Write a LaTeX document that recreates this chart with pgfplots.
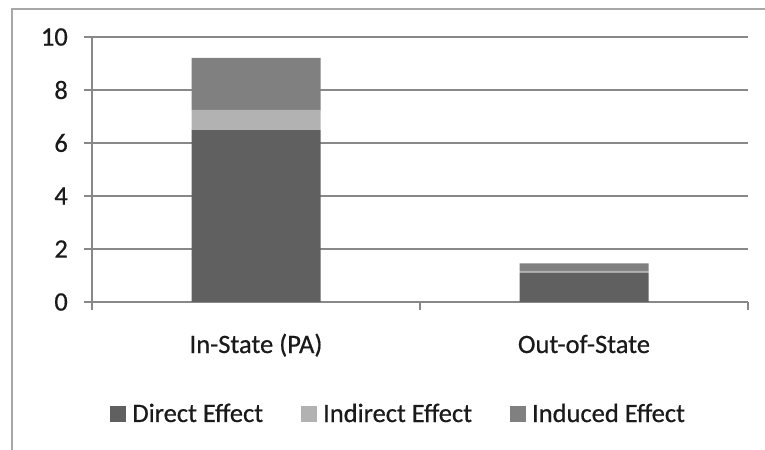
\documentclass[border=0pt]{standalone}
\usepackage{pgfplots}
\pgfplotsset{compat=1.18}
\usepackage{fontspec}
\setmainfont{Carlito}
\newfontfamily\heavyfont{Carlito}[FakeBold=0.6]
\definecolor{direct}{HTML}{606060}
\definecolor{indirect}{HTML}{B2B2B2}
\definecolor{induced}{HTML}{808080}
\definecolor{gridc}{HTML}{888888}
\definecolor{framec}{HTML}{A8A8A8}
\definecolor{txt}{HTML}{1A1A1A}
\newcommand\cf{\heavyfont\fontsize{26.5bp}{31bp}\selectfont}
\begin{document}
\begin{tikzpicture}
\useasboundingbox (0bp,0bp) rectangle (765bp,450bp);
\draw[framec, line width=2bp] (12bp,-2bp) -- (12bp,441bp) -- (767bp,441bp);
\begin{axis}[
  at={(92bp,148bp)}, anchor=south west,
  scale only axis, width=656bp, height=265bp,
  /pgf/number format/assume math mode=true,
  ybar stacked, bar width=129bp, bar shift=0pt,
  xmin=-0.5, xmax=1.5, ymin=0, ymax=10,
  axis x line*=bottom, axis y line*=left,
  axis line style={gridc, line width=1.3bp},
  tick style={gridc, line width=1.3bp},
  tick align=outside, major tick length=8bp,
  ytick={0,2,4,6,8,10},
  xtick={-0.5,0.5,1.5}, xticklabels={},
  extra x ticks={0,1},
  extra x tick labels={In-State (PA),Out-of-State},
  extra x tick style={major tick length=0pt, xticklabel style={anchor=base, yshift=-51bp}},
  ymajorgrids, grid style={gridc, line width=1.3bp},
  tick label style={font=\cf, text=txt, inner sep=0pt},
  yticklabel style={anchor=east, xshift=-16bp},
  legend style={at={(0.466,-0.421)}, anchor=center, draw=none, fill=none,
    legend columns=3, font=\cf, text=txt, inner sep=0pt, nodes={inner sep=0pt},
    /tikz/every even column/.append style={column sep=38bp}},
  legend image code/.code={\path[#1,draw=none] (0bp,-8bp) rectangle (16bp,8bp); \path (22bp,0bp);},
]
\addplot[fill=direct, draw=none] coordinates {(0,6.49) (1,1.10)};
\addlegendentry{Direct Effect}
\addplot[fill=indirect, draw=none] coordinates {(0,0.76) (1,0.07)};
\addlegendentry{Indirect Effect}
\addplot[fill=induced, draw=none] coordinates {(0,1.96) (1,0.29)};
\addlegendentry{Induced Effect}
\end{axis}
\end{tikzpicture}
\end{document}
